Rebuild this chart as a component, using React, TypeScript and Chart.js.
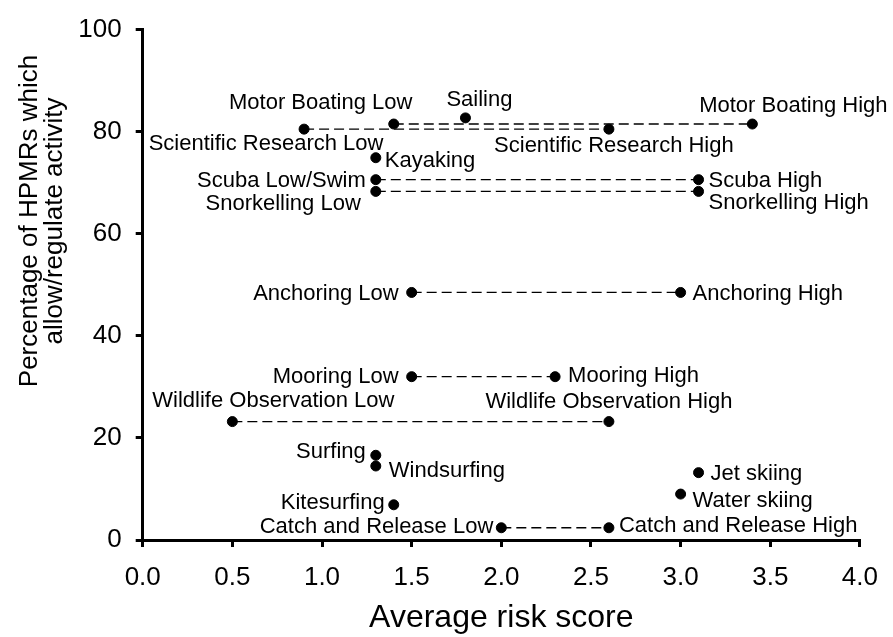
import React, { useEffect, useRef } from 'react';
import { Chart, registerables } from 'chart.js';

Chart.register(...registerables);

// ---- Data ----
const activityNames: string[] = [
  'Motor Boating Low',
  'Motor Boating High',
  'Sailing',
  'Scientific Research Low',
  'Scientific Research High',
  'Kayaking',
  'Scuba Low/Swim',
  'Scuba High',
  'Snorkelling Low',
  'Snorkelling High',
  'Anchoring Low',
  'Anchoring High',
  'Mooring Low',
  'Mooring High',
  'Wildlife Observation Low',
  'Wildlife Observation High',
  'Surfing',
  'Windsurfing',
  'Jet skiing',
  'Water skiing',
  'Kitesurfing',
  'Catch and Release Low',
  'Catch and Release High',
];

const averageRiskScores: number[] = [
  1.4, 3.4, 1.8, 0.9, 2.6, 1.3, 1.3, 3.1, 1.3, 3.1, 1.5, 3.0, 1.5, 2.3, 0.5, 2.6, 1.3, 1.3, 3.1, 3.0, 1.4, 2.0, 2.6,
];

const percentAllowing: number[] = [
  81.5, 81.5, 82.7, 80.5, 80.5, 74.9, 70.6, 70.6, 68.3, 68.3, 48.5, 48.5, 32.0, 32.0, 23.2, 23.2, 16.6, 14.5, 13.2, 9.0,
  6.9, 2.4, 2.4,
];

const lowHighPairs: [string, string][] = [
  ['Motor Boating Low', 'Motor Boating High'],
  ['Scientific Research Low', 'Scientific Research High'],
  ['Scuba Low/Swim', 'Scuba High'],
  ['Snorkelling Low', 'Snorkelling High'],
  ['Anchoring Low', 'Anchoring High'],
  ['Mooring Low', 'Mooring High'],
  ['Wildlife Observation Low', 'Wildlife Observation High'],
  ['Catch and Release Low', 'Catch and Release High'],
];

const xAxisTitle = 'Average risk score';
const yAxisTitleLines = ['Percentage of HPMRs which', 'allow/regulate activity'];

// ---- Styling (label placement per point: textAlign, dx, dy) ----
const labelPlacement: [CanvasTextAlign, number, number][] = [
  ['center', -73, -21], // Motor Boating Low
  ['center', 41, -18], // Motor Boating High
  ['center', 14, -18], // Sailing
  ['center', -38, 15], // Scientific Research Low
  ['center', 5, 17], // Scientific Research High
  ['left', 9, 3], // Kayaking
  ['right', -10, 1], // Scuba Low/Swim
  ['left', 10, 1], // Scuba High
  ['right', -15, 13], // Snorkelling Low
  ['left', 10, 12], // Snorkelling High
  ['right', -13, 1], // Anchoring Low
  ['left', 12, 1], // Anchoring High
  ['right', -13, 0], // Mooring Low
  ['left', 13, -1], // Mooring High
  ['center', 41, -21], // Wildlife Observation Low
  ['center', 0, -20], // Wildlife Observation High
  ['right', -10, -3], // Surfing
  ['left', 13, 5], // Windsurfing
  ['left', 12, 1], // Jet skiing
  ['left', 12, 7], // Water skiing
  ['right', -9, -2], // Kitesurfing
  ['right', -8, -1], // Catch and Release Low
  ['left', 10, -2], // Catch and Release High
];

const FONT = '"Liberation Sans", Arial, Helvetica, sans-serif';

const pointLabelPlugin = {
  id: 'pointLabelPlugin',
  afterDatasetsDraw(chart: any) {
    const ctx: CanvasRenderingContext2D = chart.ctx;
    const meta = chart.getDatasetMeta(0);
    ctx.save();
    ctx.fillStyle = '#000';
    ctx.font = `22px ${FONT}`;
    ctx.textBaseline = 'middle';
    meta.data.forEach((el: any, i: number) => {
      const [align, dx, dy] = labelPlacement[i];
      ctx.textAlign = align;
      ctx.fillText(activityNames[i], el.x + dx, el.y + dy);
    });
    ctx.restore();

    // y-axis title (two lines, rotated)
    ctx.save();
    ctx.fillStyle = '#000';
    ctx.font = `26px ${FONT}`;
    ctx.textAlign = 'center';
    ctx.textBaseline = 'middle';
    const centerY = 221;
    const lineX = [30, 55];
    yAxisTitleLines.forEach((line, i) => {
      ctx.save();
      ctx.translate(lineX[i], centerY);
      ctx.rotate(-Math.PI / 2);
      ctx.fillText(line, 0, 0);
      ctx.restore();
    });
    ctx.restore();
  },
};

export default function App() {
  const canvasRef = useRef<HTMLCanvasElement | null>(null);

  useEffect(() => {
    if (!canvasRef.current) return;

    const pointData = averageRiskScores.map((x, i) => ({ x, y: percentAllowing[i] }));

    const pairDatasets = lowHighPairs.map(([lo, hi]) => {
      const a = activityNames.indexOf(lo);
      const b = activityNames.indexOf(hi);
      return {
        label: `${lo} – ${hi}`,
        data: [
          { x: averageRiskScores[a], y: percentAllowing[a] },
          { x: averageRiskScores[b], y: percentAllowing[b] },
        ],
        showLine: true,
        borderColor: '#000',
        borderWidth: 1.3,
        borderDash: [10, 5],
        pointRadius: 0,
        pointHoverRadius: 0,
        fill: false,
      };
    });

    const chart = new Chart(canvasRef.current, {
      type: 'scatter',
      data: {
        datasets: [
          {
            label: 'Activities',
            data: pointData,
            backgroundColor: '#000',
            borderColor: '#000',
            borderWidth: 1,
            pointRadius: 5,
            pointHoverRadius: 5,
            showLine: false,
          },
          ...pairDatasets,
        ] as any,
      },
      options: {
        responsive: false,
        animation: false,
        layout: { padding: { left: 0, right: 31.3, top: 22.7, bottom: 0 } },
        plugins: {
          legend: { display: false },
          tooltip: { enabled: false },
          title: { display: false },
        },
        scales: {
          x: {
            type: 'linear',
            min: 0,
            max: 4,
            ticks: {
              stepSize: 0.5,
              color: '#000',
              font: { family: FONT, size: 26 },
              padding: 15,
              callback: (v: any) => Number(v).toFixed(1),
            },
            grid: {
              drawOnChartArea: false,
              color: '#000',
              lineWidth: 3,
              tickLength: 7,
              tickWidth: 3,
              tickColor: '#000',
            },
            border: { display: true, color: '#000', width: 3 },
            title: {
              display: true,
              text: xAxisTitle,
              color: '#000',
              font: { family: FONT, size: 32 },
              padding: { top: 0, bottom: 0 },
            },
            afterFit: (scale: any) => {
              scale.height = 97;
            },
          },
          y: {
            type: 'linear',
            min: 0,
            max: 100,
            ticks: {
              stepSize: 20,
              color: '#000',
              font: { family: FONT, size: 26 },
              padding: 14,
            },
            grid: {
              drawOnChartArea: false,
              color: '#000',
              lineWidth: 3,
              tickLength: 7,
              tickWidth: 3,
              tickColor: '#000',
            },
            border: { display: true, color: '#000', width: 3 },
            title: { display: false },
            afterFit: (scale: any) => {
              scale.width = 142.7;
            },
          },
        },
      } as any,
      plugins: [pointLabelPlugin],
    });

    return () => chart.destroy();
  }, []);

  return (
    <div style={{ position: 'fixed', left: 0, top: 0, width: 893, height: 637, background: '#fff' }}>
      <canvas ref={canvasRef} width={893} height={637} style={{ display: 'block' }} />
    </div>
  );
}
